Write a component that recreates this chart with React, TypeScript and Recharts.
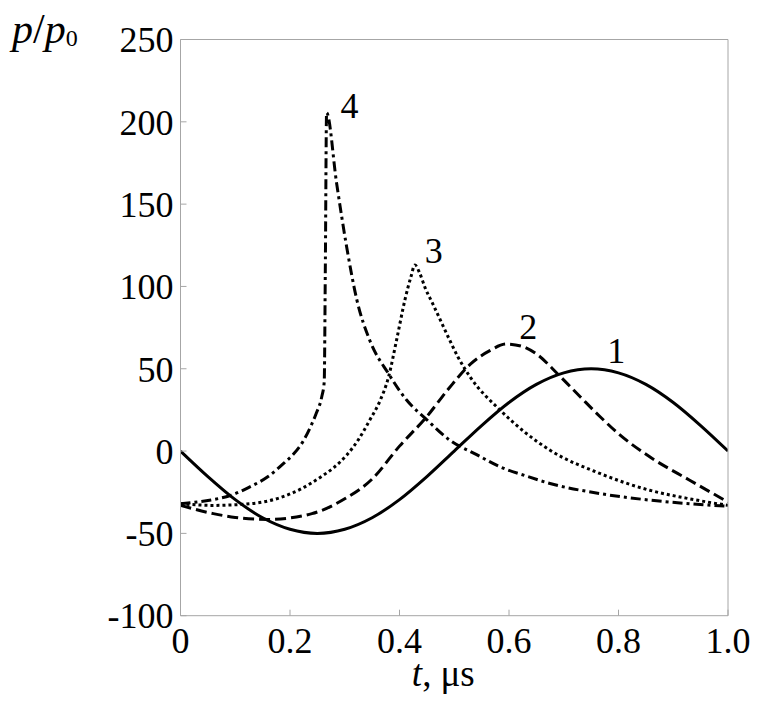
import React from "react";
import { LineChart, Line, XAxis, YAxis } from "recharts";

// curve 1 (solid)
const t1 = [0, 0.05, 0.1, 0.15, 0.2, 0.25, 0.3, 0.35, 0.4, 0.45, 0.5, 0.55, 0.6, 0.65, 0.7, 0.75, 0.8, 0.85, 0.9, 0.95, 1.0];
const p1 = [0, -15.5, -29.5, -40.5, -47.5, -50, -47.5, -40.5, -29.5, -15.5, 0, 15.5, 29.5, 40.5, 47.5, 50, 47.5, 40.5, 29.5, 15.5, 0];

// curve 2 (dashed)
const t2 = [0, 0.06, 0.1, 0.16, 0.24, 0.3, 0.35, 0.4, 0.45, 0.49, 0.53, 0.565, 0.595, 0.625, 0.65, 0.69, 0.73, 0.766, 0.8, 0.857, 0.93, 1.0];
const p2 = [-33, -38, -40.3, -41.5, -38, -29, -17, 3, 21, 38, 53, 61, 65, 63.5, 59, 46.5, 33, 21, 10.5, -3.5, -17.7, -31];

// curve 3 (dotted)
const t3 = [0, 0.06, 0.127, 0.18, 0.22, 0.255, 0.28, 0.3035, 0.325, 0.346, 0.365, 0.38, 0.395, 0.41, 0.421, 0.428, 0.437, 0.447, 0.46, 0.486, 0.507, 0.529, 0.584, 0.675, 0.766, 0.857, 0.93, 1.0];
const p3 = [-32, -33, -32, -28.5, -23, -16, -10, -2.5, 7, 19, 31, 45, 68, 92, 106, 113, 108, 99, 90, 71.4, 57, 45, 24.8, 0.5, -13.6, -23.8, -29, -33];

// curve 4 (dash-dot)
const t4 = [0, 0.05, 0.091, 0.125, 0.16, 0.19, 0.206, 0.224, 0.2365, 0.248, 0.258, 0.2625, 0.2645, 0.2668, 0.285, 0.3035, 0.322, 0.346, 0.38, 0.413, 0.45, 0.492, 0.54, 0.584, 0.63, 0.675, 0.766, 0.857, 0.93, 1.0];
const p4 = [-32, -30, -27, -22, -15.5, -7, -2, 6, 14, 23, 33, 42, 110, 205.5, 163, 124, 92, 67, 47, 31, 19, 6.6, -2, -9.6, -15, -19.7, -25.8, -29.8, -32, -33.5];

const curveNames = ["1", "2", "3", "4"];
const yTicks = [-100, -50, 0, 50, 100, 150, 200, 250];
const xTicks = [0, 0.2, 0.4, 0.6, 0.8, 1.0];
const xTickLabels = ["0", "0.2", "0.4", "0.6", "0.8", "1.0"];

const FONT = "Liberation Serif, Times New Roman, serif";
const FS: React.CSSProperties = { fontFamily: FONT };
const AXIS = "#a6a6a6";

const toRows = (ts: number[], ps: number[]) => ts.map((t, i) => ({ t, p: ps[i] }));
const argMax = (ps: number[]) => ps.reduce((best, v, i) => (v > ps[best] ? i : best), 0);

const series = [
  { name: curveNames[0], data: toRows(t1, p1), peak: argMax(p1), dash: undefined, dx: 25, dy: -6 },
  { name: curveNames[1], data: toRows(t2, p2), peak: argMax(p2), dash: "11 5", dx: 22, dy: -5 },
  { name: curveNames[2], data: toRows(t3, p3), peak: argMax(p3), dash: "3 3", dx: 19, dy: -2 },
  { name: curveNames[3], data: toRows(t4, p4), peak: argMax(p4), dash: "10 4 3 4", dx: 23, dy: 5 },
];

const YLeftTick = (props: any) => {
  const { x, y, payload } = props;
  const ax = x + 7;
  return (
    <g>
      <line x1={ax} y1={y} x2={ax + 6} y2={y} stroke={AXIS} strokeWidth={1} />
      <text x={x} y={y} dy="0.355em" textAnchor="end" fontSize={36} fontFamily={FONT} style={FS} fill="#000">
        {payload.value}
      </text>
    </g>
  );
};

const YRightTick = (props: any) => {
  const { x, y } = props;
  return <line x1={x} y1={y} x2={x - 6} y2={y} stroke={AXIS} strokeWidth={1} />;
};

const XBottomTick = (props: any) => {
  const { x, y, payload, index } = props;
  const ay = y - 12;
  const label = xTickLabels[index] ?? String(payload.value);
  return (
    <g>
      <line x1={x} y1={ay} x2={x} y2={ay - 6} stroke={AXIS} strokeWidth={1} />
      <text x={x} y={y} dy="0.71em" textAnchor="middle" fontSize={36} fontFamily={FONT} style={FS} fill="#000">
        {label}
      </text>
    </g>
  );
};

const XLabel = (props: any) => {
  const vb = props.viewBox || { x: 0, y: 0, width: 0 };
  return (
    <text x={vb.x + vb.width / 2 - 11} y={vb.y + 70} textAnchor="middle" fontSize={37} fontFamily={FONT} style={FS} fill="#000">
      <tspan fontStyle="italic">t</tspan>
      <tspan>,</tspan>
      <tspan dx={9}>μs</tspan>
    </text>
  );
};

const YLabel = (props: any) => {
  const vb = props.viewBox || { x: 0, y: 0 };
  return (
    <text x={vb.x - 68.5} y={vb.y + 3.5} fontSize={42} fontFamily={FONT} style={FS} fill="#000">
      <tspan fontStyle="italic">p</tspan>
      <tspan>/</tspan>
      <tspan fontStyle="italic">p</tspan>
      <tspan fontSize={24} dy={3}>0</tspan>
    </text>
  );
};

const makePeakLabel = (name: string, peakIdx: number, peakVal: number, dx: number, dy: number) => (props: any) => {
  const { x, y, index, value } = props;
  if (!(index === peakIdx || (index === undefined && value === peakVal))) return null;
  return (
    <text x={x + dx} y={y + dy} textAnchor="middle" fontSize={36} fontFamily={FONT} style={FS} fill="#000">
      {name}
    </text>
  );
};

export default function App() {
  return (
    <div style={{ width: 746, height: 691, fontFamily: FONT }}>
      <LineChart width={746} height={691} margin={{ top: 30.5, right: 25, bottom: 23.3, left: 72.5 }}>
        <XAxis
          dataKey="t"
          type="number"
          domain={[0, 1]}
          ticks={xTicks}
          interval={0}
          tickSize={0}
          tickMargin={12}
          tickLine={false}
          tick={<XBottomTick />}
          axisLine={{ stroke: AXIS, strokeWidth: 1 }}
          height={60}
          label={<XLabel />}
          allowDataOverflow
        />
        <XAxis
          xAxisId="top"
          orientation="top"
          dataKey="t"
          type="number"
          domain={[0, 1]}
          tick={false}
          tickLine={false}
          axisLine={{ stroke: AXIS, strokeWidth: 1 }}
          height={1}
        />
        <YAxis
          type="number"
          domain={[-100, 250]}
          ticks={yTicks}
          interval={0}
          tickSize={0}
          tickMargin={7}
          tickLine={false}
          tick={<YLeftTick />}
          axisLine={{ stroke: AXIS, strokeWidth: 1 }}
          width={100}
          label={<YLabel />}
          allowDataOverflow
        />
        <YAxis
          yAxisId="right"
          orientation="right"
          type="number"
          domain={[-100, 250]}
          ticks={yTicks}
          interval={0}
          tickSize={0}
          tickMargin={0}
          tickLine={false}
          tick={<YRightTick />}
          axisLine={{ stroke: AXIS, strokeWidth: 1 }}
          width={1}
        />
        {series.map((s) => (
          <Line
            key={s.name}
            data={s.data}
            dataKey="p"
            type="monotone"
            stroke="#000"
            strokeWidth={3}
            strokeDasharray={s.dash}
            dot={false}
            activeDot={false}
            isAnimationActive={false}
            label={makePeakLabel(s.name, s.peak, s.data[s.peak].p, s.dx, s.dy)}
          />
        ))}
      </LineChart>
    </div>
  );
}
